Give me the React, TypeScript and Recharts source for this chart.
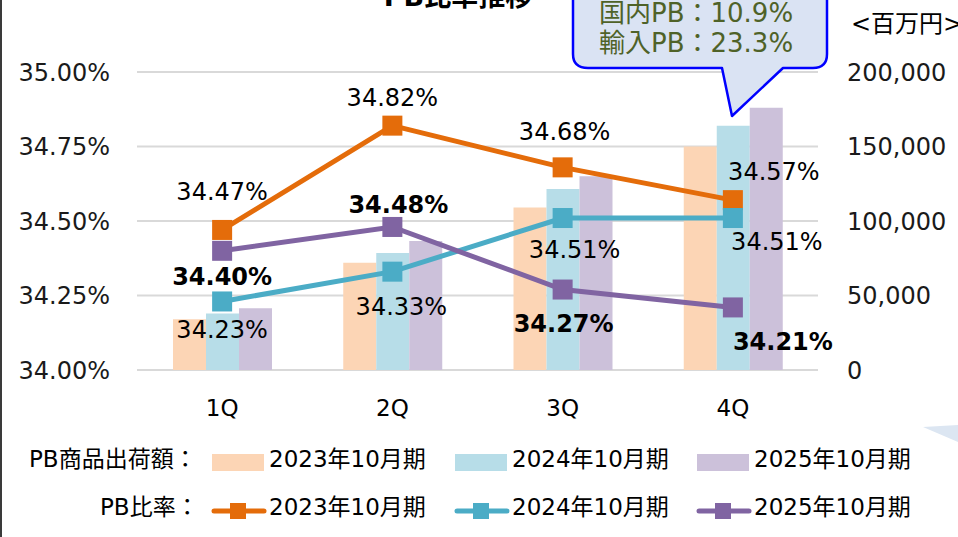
import { ComposedChart, Bar, Line, XAxis, YAxis, CartesianGrid, LabelList } from "recharts"

const quarters = ["1Q", "2Q", "3Q", "4Q"]
const fiscalYears = ["2023年10月期", "2024年10月期", "2025年10月期"]

// PB商品出荷額 (百万円)
const shipments2023 = [34000, 72000, 109000, 150000]
const shipments2024 = [38000, 78500, 121500, 164000]
const shipments2025 = [41500, 86500, 130000, 176000]

// PB比率 (%)
const ratio2023 = [34.47, 34.82, 34.68, 34.57]
const ratio2024 = [34.23, 34.33, 34.51, 34.51]
const ratio2025 = [34.4, 34.48, 34.27, 34.21]

const leftTicks = [34, 34.25, 34.5, 34.75, 35]
const rightTicks = [0, 50000, 100000, 150000, 200000]
const calloutLines = ["国内PB：10.9%", "輸入PB：23.3%"]

const FONT = "'DejaVu Sans', 'Noto Sans CJK JP', sans-serif"
const barColors = ["#fcd5b5", "#b7dde8", "#ccc1da"]
const lineColors = ["#e46c0a", "#4bacc6", "#8064a2"]

// where each ratio label sits relative to its marker
const labelOffsets = [
  [[0, -38], [0, -28], [2, -35], [41, -28]],
  [[0, 29], [9, 35], [12, 32], [44, 24]],
  [[0, 26], [6, -22], [1, 34], [50, 35]],
]

const data = quarters.map((q, i) => ({
  quarter: q,
  s2023: shipments2023[i],
  s2024: shipments2024[i],
  s2025: shipments2025[i],
  r2023: ratio2023[i],
  r2024: ratio2024[i],
  r2025: ratio2025[i],
}))

const squareDot = (color: string, size: number) => (props: any) => {
  const { cx, cy, index } = props
  if (cx == null || cy == null) return <g key={`dot-${index}`} />
  return (
    <rect
      key={`dot-${index}`}
      x={cx - size / 2}
      y={cy - size / 2}
      width={size}
      height={size}
      fill={color}
    />
  )
}

const ratioLabel = (series: number, bold: boolean) => (props: any) => {
  const { x, y, value, index } = props
  const [dx, dy] = labelOffsets[series][index]
  return (
    <text
      key={`lbl-${series}-${index}`}
      x={x + dx}
      y={y + dy}
      textAnchor="middle"
      dominantBaseline="central"
      fontSize={24}
      fontWeight={bold ? 700 : 400}
      fontFamily={FONT}
      fill="#000"
    >
      {Number(value).toFixed(2)}%
    </text>
  )
}

function Overlay() {
  const legendX = [212, 455, 697]
  return (
    <svg
      width={958}
      height={537}
      style={{ position: "absolute", left: 0, top: 0, pointerEvents: "none" }}
      fontFamily={FONT}
    >
      {/* frame edge */}
      <rect x={0} y={0} width={2} height={537} fill="#3a3a3a" />
      {/* title, mostly cropped */}
      <text x={458} y={6} textAnchor="middle" fontSize={27} fontWeight={700} fill="#000">
        PB比率推移
      </text>
      {/* callout */}
      <path
        d="M 588 -20 L 812 -20 Q 827 -20 827 -5 L 827 54 Q 827 68 813 68 L 783 68 L 732 116 L 722 68 L 588 68 Q 573 68 573 54 L 573 -5 Q 573 -20 588 -20 Z"
        fill="#dae3f3"
        stroke="#0000ff"
        strokeWidth={2.5}
        strokeLinejoin="round"
      />
      {calloutLines.map((t, i) => (
        <text key={t} x={599} y={13 + i * 30} dominantBaseline="central" fontSize={26} fill="#4f6228">
          {t}
        </text>
      ))}
      <text x={851} y={24} dominantBaseline="central" fontSize={24} fill="#000">
        &lt;百万円&gt;
      </text>
      {/* background shape peeking in */}
      <polygon points="923,427 958,425 958,442" fill="#dce6f2" />
      {/* legend */}
      <text x={29} y={459} dominantBaseline="central" fontSize={23} fill="#000">
        PB商品出荷額：
      </text>
      <text x={100} y={507} dominantBaseline="central" fontSize={23} fill="#000">
        PB比率：
      </text>
      {fiscalYears.map((fy, i) => (
        <g key={fy}>
          <rect x={legendX[i]} y={454} width={52} height={17} fill={barColors[i]} />
          <text x={legendX[i] + 57} y={459} dominantBaseline="central" fontSize={23} fill="#000">
            {fy}
          </text>
          <line
            x1={legendX[i] + 2}
            x2={legendX[i] + 52}
            y1={511}
            y2={511}
            stroke={lineColors[i]}
            strokeWidth={5}
            strokeLinecap="round"
          />
          <rect x={legendX[i] + 18} y={503} width={16} height={16} fill={lineColors[i]} />
          <text x={legendX[i] + 57} y={507} dominantBaseline="central" fontSize={23} fill="#000">
            {fy}
          </text>
        </g>
      ))}
    </svg>
  )
}

export default function App() {
  return (
    <div
      style={{
        position: "absolute",
        left: 0,
        top: 0,
        width: 958,
        height: 537,
        background: "#fff",
        overflow: "hidden",
      }}
    >
      <ComposedChart
        width={958}
        height={537}
        data={data}
        margin={{ top: 72, right: 0, bottom: 107, left: 0 }}
        barGap={0}
        barSize={33}
      >
        <CartesianGrid yAxisId="left" vertical={false} stroke="#d9d9d9" strokeWidth={2} />
        <XAxis
          dataKey="quarter"
          height={60}
          axisLine={false}
          tickLine={false}
          tickMargin={24}
          tick={{ fontSize: 23, fill: "#000", fontFamily: FONT }}
        />
        <YAxis
          yAxisId="left"
          width={137}
          domain={[34, 35]}
          ticks={leftTicks}
          axisLine={false}
          tickLine={false}
          tickMargin={21}
          tickFormatter={(v: number) => `${v.toFixed(2)}%`}
          tick={{ fontSize: 24, fill: "#1a1a1a", fontFamily: FONT }}
        />
        <YAxis
          yAxisId="right"
          orientation="right"
          width={140}
          domain={[0, 200000]}
          ticks={rightTicks}
          axisLine={false}
          tickLine={false}
          tickMargin={23}
          tickFormatter={(v: number) => v.toLocaleString("en-US")}
          tick={{ fontSize: 24, fill: "#1a1a1a", fontFamily: FONT, textAnchor: "start" }}
        />
        <Bar yAxisId="right" dataKey="s2023" fill={barColors[0]} isAnimationActive={false} />
        <Bar yAxisId="right" dataKey="s2024" fill={barColors[1]} isAnimationActive={false} />
        <Bar yAxisId="right" dataKey="s2025" fill={barColors[2]} isAnimationActive={false} />
        <Line
          yAxisId="left"
          dataKey="r2023"
          stroke={lineColors[0]}
          strokeWidth={5}
          dot={squareDot(lineColors[0], 20)}
          activeDot={false}
          isAnimationActive={false}
        >
          <LabelList dataKey="r2023" content={ratioLabel(0, false)} />
        </Line>
        <Line
          yAxisId="left"
          dataKey="r2024"
          stroke={lineColors[1]}
          strokeWidth={5}
          dot={squareDot(lineColors[1], 20)}
          activeDot={false}
          isAnimationActive={false}
        >
          <LabelList dataKey="r2024" content={ratioLabel(1, false)} />
        </Line>
        <Line
          yAxisId="left"
          dataKey="r2025"
          stroke={lineColors[2]}
          strokeWidth={5}
          dot={squareDot(lineColors[2], 20)}
          activeDot={false}
          isAnimationActive={false}
        >
          <LabelList dataKey="r2025" content={ratioLabel(2, true)} />
        </Line>
      </ComposedChart>
      <Overlay />
    </div>
  )
}
